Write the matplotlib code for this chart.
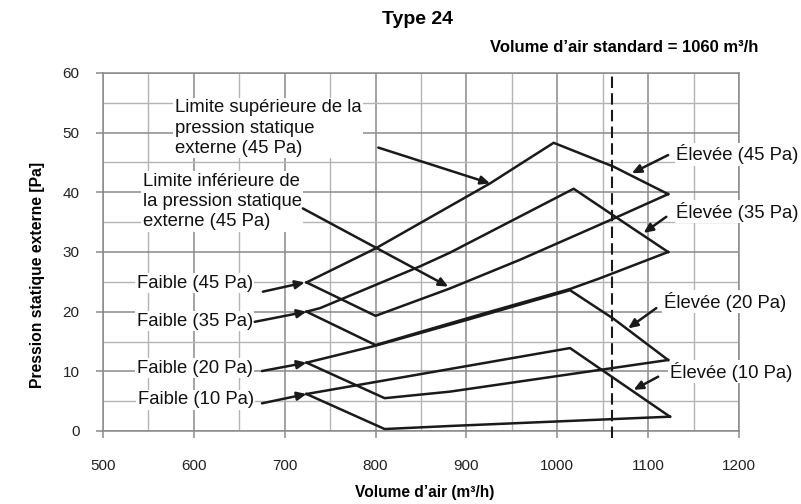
import matplotlib.pyplot as plt
from matplotlib.ticker import MultipleLocator

plt.rcParams['font.family'] = ['Liberation Sans', 'DejaVu Sans']

# courbes limites pour chaque pression statique (haut = limite sup, bas = limite inf)
x45_haut = [724, 800, 926, 962, 996, 1062, 1122]
y45_haut = [24.9, 30.6, 41.5, 45.0, 48.3, 44.3, 39.7]
x45_bas = [724, 800, 882, 959, 1062, 1122]
y45_bas = [24.9, 19.3, 23.9, 28.7, 35.6, 39.7]

x35_haut = [724, 739, 849, 882, 1018, 1062, 1122]
y35_haut = [20.0, 20.6, 27.6, 29.9, 40.6, 36.1, 30.0]
x35_bas = [724, 800, 856, 926, 1014, 1047, 1122]
y35_bas = [20.0, 14.4, 16.9, 20.0, 23.8, 25.6, 30.0]

x20_haut = [724, 800, 900, 1014, 1062, 1122]
y20_haut = [11.45, 14.3, 18.6, 23.6, 18.8, 11.9]
x20_bas = [724, 810, 882, 1122]
y20_bas = [11.45, 5.5, 6.6, 11.9]

x10_haut = [724, 1014, 1124]
y10_haut = [6.2, 13.9, 2.4]
x10_bas = [724, 810, 882, 1124]
y10_bas = [6.2, 0.33, 0.84, 2.4]

debit_standard = 1060

# libellés : texte, position du texte, queue de flèche, pointe de flèche
libelles = [
    ("Limite supérieure de la\npression statique\nexterne (45 Pa)", (579, 55.6), (803, 47.5), (926, 41.5)),
    ("Limite inférieure de\nla pression statique\nexterne (45 Pa)", (544, 43.3), (720, 37.3), (880, 24.2)),
    ("Faible (45 Pa)", (537, 24.75), (676, 23.35), (722, 24.9)),
    ("Faible (35 Pa)", (537, 18.4), (667, 18.3), (724, 20.0)),
    ("Faible (20 Pa)", (537, 10.5), (675, 10.05), (724, 11.45)),
    ("Faible (10 Pa)", (538, 5.2), (675, 4.64), (724, 6.2)),
    ("Élevée (45 Pa)", (1131, 46.4), (1122, 46.25), (1082, 43.2)),
    ("Élevée (35 Pa)", (1131, 36.75), (1120, 35.9), (1095, 33.2)),
    ("Élevée (20 Pa)", (1117, 21.7), (1109, 20.6), (1078, 17.2)),
    ("Élevée (10 Pa)", (1124, 9.94), (1111, 9.1), (1084, 6.9)),
]

fig = plt.figure(figsize=(8.01, 5.04), dpi=100)
ax = fig.add_axes([103 / 801, 1 - 431 / 504, 636 / 801, 358 / 504])

courbes = [
    (x45_haut, y45_haut), (x45_bas, y45_bas),
    (x35_haut, y35_haut), (x35_bas, y35_bas),
    (x20_haut, y20_haut), (x20_bas, y20_bas),
    (x10_haut, y10_haut), (x10_bas, y10_bas),
]
for xs, ys in courbes:
    ax.plot(xs, ys, color="#1a1a1a", lw=1.8, zorder=4)

ax.axvline(debit_standard, ymin=-0.02, ymax=1, color="#1a1a1a", lw=1.5,
           ls=(0, (5.5, 2.5)), clip_on=False, zorder=4)

for txt, pos, queue, pointe in libelles:
    ax.text(pos[0], pos[1], txt, ha="left", va="top" if "\n" in txt else "center",
            fontsize=13.3, color="#111", linespacing=1.25, zorder=3,
            bbox=dict(facecolor="white", edgecolor="none", pad=1))
    ax.annotate("", xy=pointe, xytext=queue,
                arrowprops=dict(arrowstyle="-|>,head_length=0.55,head_width=0.25",
                                color="#1a1a1a", lw=1.8, shrinkA=0, shrinkB=0),
                zorder=5)

ax.set_xlim(500, 1200)
ax.set_ylim(0, 60)
ax.xaxis.set_major_locator(MultipleLocator(100))
ax.xaxis.set_minor_locator(MultipleLocator(50))
ax.yaxis.set_major_locator(MultipleLocator(10))
ax.yaxis.set_minor_locator(MultipleLocator(5))
ax.set_axisbelow(True)
ax.grid(which="major", color="#8a8a8a", lw=1.1)
ax.grid(which="minor", color="#b4b4b4", lw=1.0)
ax.tick_params(which="major", direction="out", length=5, width=1.1,
               color="#8a8a8a", labelsize=11, labelcolor="#222")
ax.tick_params(which="minor", length=0)
ax.tick_params(axis="x", pad=15)
ax.tick_params(axis="y", pad=12)
for s in ax.spines.values():
    s.set_color("#8a8a8a")
    s.set_linewidth(1.1)

fig.text(417 / 801, 1 - 20 / 504, "Type 24", ha="center", va="center",
         fontsize=14, fontweight="bold")
fig.text(758 / 801, 1 - 47 / 504, "Volume d’air standard = 1060 m³/h",
         ha="right", va="center", fontsize=12, fontweight="bold")
fig.text(425 / 801, 1 - 492 / 504, "Volume d’air (m³/h)", ha="center",
         va="center", fontsize=11.2, fontweight="bold")
fig.text(38 / 801, 1 - 275 / 504, "Pression statique externe [Pa]",
         rotation=90, ha="center", va="center", fontsize=11.3, fontweight="bold")

fig.savefig("out.png", dpi=100)
